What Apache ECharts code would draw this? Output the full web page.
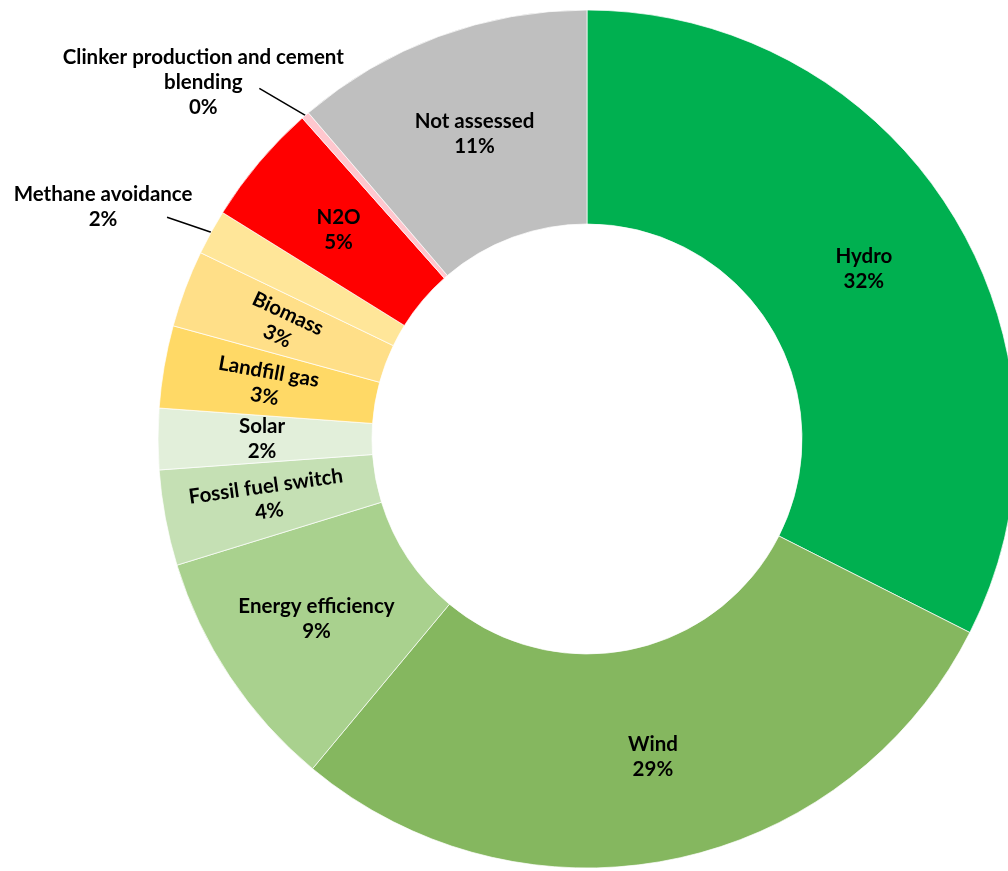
<!DOCTYPE html>
<html>
<head>
<meta charset="utf-8">
<script src="https://cdn.jsdelivr.net/npm/echarts@6/dist/echarts.min.js"></script>
<style>
html,body{margin:0;padding:0;background:#fff;}
#chart{width:1008px;height:871px;}
</style>
</head>
<body>
<div id="chart"></div>
<script>
var categories = ['Hydro','Wind','Energy efficiency','Fossil fuel switch','Solar','Landfill gas','Biomass','Methane avoidance','N2O','Clinker production and cement\nblending','Not assessed'];
var values = [32.45, 28.6, 9.2, 3.6, 2.3, 3.1, 2.9, 1.7, 4.6, 0.3, 11.25];
var colors = ['#00B050','#85B75F','#A9D18E','#C5E0B4','#E2EFDA','#FFD966','#FFDF88','#FFE699','#FF0000','#FFC7CE','#BFBFBF'];
var labelRotations = [0, 0, 0, 8, 0, -10, -25, 0, 0, 0, 0];
var outsideLabels = [7, 9];

var data = categories.map(function (name, i) {
  var item = { name: name, value: values[i], itemStyle: { color: colors[i] } };
  if (outsideLabels.indexOf(i) >= 0) {
    item.label = { position: 'outside' };
    item.labelLine = { show: true, length: 30, length2: 0, lineStyle: { color: '#000', width: 1.5 } };
  } else {
    item.label = { position: 'inside', rotate: labelRotations[i] };
    item.labelLine = { show: false };
  }
  return item;
});

var chart = echarts.init(document.getElementById('chart'), null, { renderer: 'canvas' });
chart.setOption({
  animation: false,
  backgroundColor: '#fff',
  series: [{
    type: 'pie',
    center: [587, 439],
    radius: [215, 429],
    startAngle: 90,
    clockwise: true,
    avoidLabelOverlap: false,
    itemStyle: { borderColor: 'rgba(255,255,255,0.7)', borderWidth: 1 },
    emphasis: { disabled: true },
    label: {
      show: true,
      color: '#000',
      fontFamily: 'Lato',
      fontWeight: 'bold',
      fontSize: 20.5,
      lineHeight: 25,
      formatter: function (p) { return p.name + '\n' + Math.round(p.percent) + '%'; }
    },
    labelLayout: function (p) {
      var pts = p.labelLinePoints;
      if (!pts) return {};
      var p0 = pts[0];
      var end, lx, ly;
      if (p.dataIndex === 9) {
        end = [p0[0] - 46, p0[1] - 27];
        lx = end[0] - 56; ly = end[1] - 6;
      } else if (p.dataIndex === 7) {
        end = [p0[0] - 44, p0[1] - 15];
        lx = end[0] - 64; ly = end[1] - 10;
      } else {
        return {};
      }
      return { x: lx, y: ly, align: 'center', verticalAlign: 'middle', labelLinePoints: [p0, end] };
    },
    data: data
  }]
});
</script>
</body>
</html>
